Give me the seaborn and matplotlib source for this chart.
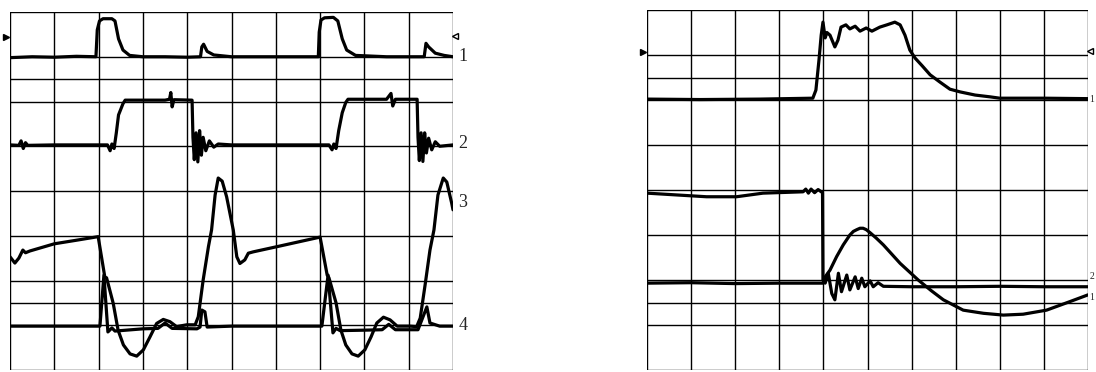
import numpy as np
import pandas as pd
import matplotlib
matplotlib.use('Agg')
import matplotlib.pyplot as plt
import seaborn as sns

sns.set_theme(style='white')
plt.rcParams['font.family'] = ['Liberation Serif', 'DejaVu Serif']

# ---- left screen (divisions: x 0..10, y 0..8) ----
l1_x = [0, 0.5, 1.0, 1.5, 1.94, 1.97, 2.02, 2.1, 2.3, 2.37, 2.45, 2.55, 2.7, 3.0, 3.5, 4.0, 4.3,
        4.33, 4.37, 4.45, 4.6, 5.0, 6.0, 6.96, 6.98, 7.02, 7.1, 7.3, 7.4, 7.5, 7.6, 7.8, 8.5,
        9.35, 9.39, 9.45, 9.6, 9.8, 10]
l1_y = [6.98, 7.0, 6.99, 7.01, 7.0, 7.6, 7.8, 7.85, 7.85, 7.8, 7.4, 7.15, 7.03, 7.0, 7.0, 6.99, 7.0,
        7.22, 7.28, 7.12, 7.04, 7.0, 7.0, 7.0, 7.55, 7.82, 7.87, 7.88, 7.8, 7.4, 7.15, 7.03, 7.0,
        7.0, 7.3, 7.22, 7.08, 7.03, 7.0]

l2_x = [0, 0.2, 0.25, 0.3, 0.35, 0.4, 1.0, 2.2, 2.26, 2.3, 2.35, 2.4, 2.45, 2.55, 2.6, 3.5, 3.6,
        3.63, 3.66, 3.7, 4.11, 4.13, 4.16, 4.2, 4.24, 4.28, 4.32, 4.36, 4.42, 4.5, 4.6, 4.7, 5.0,
        6.5, 7.2, 7.27, 7.31, 7.36, 7.42, 7.5, 7.58, 7.63, 8.5, 8.6, 8.64, 8.7, 9.19, 9.21, 9.24,
        9.28, 9.32, 9.36, 9.4, 9.45, 9.52, 9.6, 9.7, 10]
l2_y = [5.03, 5.02, 5.12, 4.95, 5.08, 5.02, 5.03, 5.03, 4.9, 5.05, 4.95, 5.3, 5.7, 5.95, 6.03, 6.03,
        6.05, 6.2, 5.88, 6.04, 6.03, 5.2, 4.7, 5.3, 4.65, 5.35, 4.8, 5.2, 4.9, 5.12, 4.98, 5.05, 5.03,
        5.03, 5.03, 4.92, 5.05, 4.95, 5.35, 5.75, 5.98, 6.05, 6.05, 6.18, 5.9, 6.05, 6.05, 5.2, 4.68,
        5.3, 4.66, 5.3, 4.85, 5.18, 4.92, 5.1, 5.0, 5.03]

l3_x = [0, 0.11, 0.2, 0.29, 0.35, 0.45, 1.0, 1.5, 1.99, 2.14, 2.18, 2.33, 2.44, 2.56, 2.71, 2.86,
        3.01, 3.16, 3.31, 3.46, 3.61, 3.76, 3.99, 4.18, 4.25, 4.36, 4.48, 4.55, 4.63, 4.70, 4.79,
        4.89, 5.04, 5.12, 5.19, 5.30, 5.38, 5.49, 6.09, 7.0, 7.16, 7.20, 7.36, 7.47, 7.58, 7.72,
        7.86, 8.01, 8.15, 8.28, 8.43, 8.58, 8.74, 9.03, 9.18, 9.26, 9.37, 9.48, 9.57, 9.66, 9.78,
        9.86, 9.97, 10]
l3_y = [2.53, 2.39, 2.5, 2.68, 2.62, 2.66, 2.82, 2.9, 2.98, 2.08, 2.06, 1.49, 0.89, 0.56, 0.36, 0.31,
        0.45, 0.74, 1.04, 1.13, 1.08, 0.97, 1.01, 1.01, 1.19, 2.01, 2.76, 3.13, 3.91, 4.29, 4.22,
        3.87, 3.13, 2.53, 2.38, 2.46, 2.61, 2.64, 2.77, 2.97, 2.12, 2.06, 1.50, 0.89, 0.56, 0.36,
        0.31, 0.45, 0.74, 1.05, 1.18, 1.12, 0.98, 0.98, 0.97, 1.16, 1.9, 2.68, 3.13, 3.91, 4.29,
        4.2, 3.73, 3.58]

l4_x = [0, 1.0, 2.03, 2.12, 2.21, 2.30, 2.37, 3.0, 3.34, 3.5, 3.66, 4.22, 4.29, 4.33, 4.40, 4.45,
        5.0, 6.0, 7.04, 7.18, 7.29, 7.36, 7.45, 8.0, 8.4, 8.55, 8.7, 9.21, 9.41, 9.48, 9.7, 10]
l4_y = [0.98, 0.98, 0.98, 2.12, 0.85, 0.94, 0.87, 0.92, 0.93, 1.05, 0.93, 0.92, 0.96, 1.34, 1.3, 0.96,
        0.98, 0.98, 0.98, 2.12, 0.83, 0.93, 0.88, 0.89, 0.9, 1.02, 0.9, 0.9, 1.41, 1.05, 0.98, 0.98]

# ---- right screen ----
r1_x = [0, 1.2, 2.56, 3.76, 3.83, 3.90, 3.95, 3.99, 4.04, 4.08, 4.15, 4.26, 4.33, 4.40, 4.51, 4.60,
        4.72, 4.83, 4.97, 5.10, 5.28, 5.44, 5.62, 5.74, 5.85, 5.96, 6.08, 6.24, 6.42, 6.64, 6.87,
        7.10, 7.44, 7.78, 8.0, 9.0, 10]
r1_y = [6.02, 6.01, 6.02, 6.04, 6.22, 6.89, 7.44, 7.73, 7.38, 7.5, 7.44, 7.18, 7.33, 7.62, 7.67, 7.58,
        7.64, 7.53, 7.6, 7.53, 7.62, 7.67, 7.73, 7.67, 7.44, 7.11, 6.93, 6.76, 6.56, 6.4, 6.24,
        6.18, 6.11, 6.07, 6.04, 6.04, 6.03]

r2_x = [0, 1.35, 2.03, 2.63, 3.54, 3.6, 3.66, 3.72, 3.8, 3.88, 3.98, 3.99, 4.04, 4.11, 4.19, 4.26,
        4.34, 4.41, 4.53, 4.60, 4.72, 4.79, 4.87, 4.94, 5.06, 5.13, 5.24, 5.36, 6.0, 7.0, 8.0, 9.0, 10]
r2_y = [3.93, 3.85, 3.85, 3.93, 3.96, 4.02, 3.93, 4.02, 3.94, 4.01, 3.94, 2.0, 1.93, 2.15, 1.70, 1.56,
        2.15, 1.74, 2.11, 1.78, 2.07, 1.81, 2.04, 1.85, 1.98, 1.85, 1.94, 1.86, 1.85, 1.85, 1.86,
        1.85, 1.85]

r3_x = [0, 1.0, 2.0, 3.0, 3.99, 4.04, 4.15, 4.30, 4.45, 4.60, 4.68, 4.76, 4.83, 4.90, 4.97, 5.06,
        5.20, 5.36, 5.74, 6.15, 6.45, 6.72, 7.17, 7.63, 8.08, 8.53, 9.06, 9.59, 10]
r3_y = [1.93, 1.94, 1.92, 1.93, 1.93, 2.07, 2.22, 2.52, 2.78, 3.0, 3.08, 3.12, 3.15, 3.15, 3.12, 3.05,
        2.93, 2.78, 2.37, 2.0, 1.76, 1.56, 1.33, 1.26, 1.22, 1.24, 1.33, 1.52, 1.67]

left_traces = [(l1_x, l1_y), (l2_x, l2_y), (l3_x, l3_y), (l4_x, l4_y)]
right_traces = [(r1_x, r1_y), (r2_x, r2_y), (r3_x, r3_y)]

left_labels = [('1', 7.0), ('2', 5.07), ('3', 3.75), ('4', 1.0)]
right_labels = [('1', 6.0), ('2', 2.07), ('1', 1.62)]

grid_x = list(range(0, 11))
grid_y = [0, 1, 1.5, 2, 3, 4, 5, 6, 6.5, 7, 8]

fig = plt.figure(figsize=(10.96, 3.72), dpi=100)
ax_l = fig.add_axes([10 / 1096, 2 / 372, 443 / 1096, 358 / 372])
ax_r = fig.add_axes([647 / 1096, 2 / 372, 441 / 1096, 360 / 372])


def scope(ax, traces, labels, mark_y, label_x, label_size):
    for gx in grid_x:
        ax.axvline(gx, color='black', lw=1.0, zorder=1)
    for gy in grid_y:
        ax.axhline(gy, color='black', lw=1.0, zorder=1)
    for xs, ys in traces:
        df = pd.DataFrame({'t': xs, 'v': ys})
        sns.lineplot(data=df, x='t', y='v', ax=ax, color='black', lw=2.3,
                     sort=False, estimator=None, zorder=3)
    ax.set_xlim(0, 10)
    ax.set_ylim(0, 8)
    ax.set_xticks([])
    ax.set_yticks([])
    ax.set_xlabel('')
    ax.set_ylabel('')
    for s in ax.spines.values():
        s.set_visible(False)
    for txt, y in labels:
        ax.text(label_x, y, txt, fontsize=label_size, va='center', ha='left', clip_on=False)
    ax.plot([-0.09], [mark_y[0]], marker='>', color='black', ms=4, clip_on=False)
    ax.plot([10.05], [mark_y[1]], marker='<', color='black', mfc='white', ms=4, clip_on=False)


scope(ax_l, left_traces, left_labels, (7.44, 7.46), 10.12, 13)
# right-hand labels sit hard against the picture edge
scope(ax_r, right_traces, right_labels, (7.07, 7.09), 10.03, 7)

fig.savefig('out.png', dpi=100)
